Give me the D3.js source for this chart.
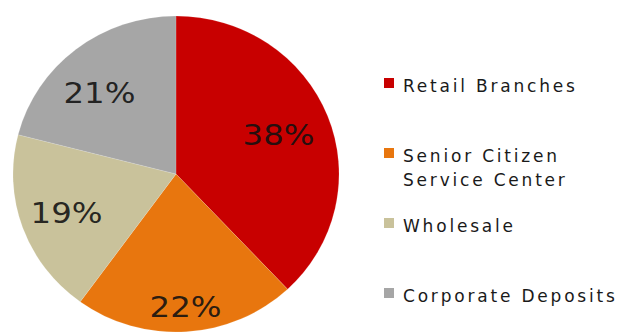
<!DOCTYPE html>
<html>
<head>
<meta charset="utf-8">
<script src="https://cdn.jsdelivr.net/npm/d3@7"></script>
<style>
  html, body { margin: 0; padding: 0; background: #fff; }
  svg { display: block; }
</style>
</head>
<body>
<svg id="chart" width="624" height="335"></svg>
<script>
// Deposit mix by channel
const categories = ["Retail Branches", "Senior Citizen Service Center", "Wholesale", "Corporate Deposits"];
const legendLines = [["Retail Branches"], ["Senior Citizen", "Service Center"], ["Wholesale"], ["Corporate Deposits"]];
const shares = [38, 22, 19, 21];
const colors = ["#C80000", "#E8760E", "#C9C29B", "#A6A6A6"];

// Label placement (fraction of radius, angle nudge in degrees)
const labelRadius = [0.67, 0.84, 0.72, 0.70];
const labelNudge = [0, 0, 0, -5];

const svg = d3.select("#chart");
const cx = 176, cy = 174, rx = 163, ry = 158;
const k = ry / rx;

const pie = d3.pie().sort(null).value(d => d)(shares);
const arc = d3.arc().innerRadius(0).outerRadius(rx);

const g = svg.append("g").attr("transform", `translate(${cx},${cy}) scale(1,${k})`);
g.selectAll("path")
  .data(pie)
  .join("path")
  .attr("d", arc)
  .attr("fill", (d, i) => colors[i])
  .attr("stroke", "#fff")
  .attr("stroke-opacity", 0.25)
  .attr("stroke-width", 0.6);

// Percentage labels
const fs = 28;
svg.append("g").selectAll("text")
  .data(pie)
  .join("text")
  .each(function (d, i) {
    const a = (d.startAngle + d.endAngle) / 2 + labelNudge[i] * Math.PI / 180;
    const r = rx * labelRadius[i];
    const x = cx + r * Math.sin(a);
    const y = cy - r * Math.cos(a) * k;
    d3.select(this)
      .attr("x", x + 1)
      .attr("y", y + fs * 0.36)
      .text(d3.format(".0f")(d.value) + "%");
  })
  .attr("text-anchor", "middle")
  .attr("font-family", "DejaVu Sans, Verdana, sans-serif")
  .attr("font-size", fs)
  .attr("textLength", 72)
  .attr("lengthAdjust", "spacingAndGlyphs")
  .attr("fill", "#111")
  .attr("fill-opacity", 0.9);

// Legend
const legendX = 384, legendTop = 92, legendStep = 70, lineStep = 24;
const lg = svg.append("g");
const items = lg.selectAll("g.item")
  .data(categories)
  .join("g")
  .attr("class", "item")
  .attr("transform", (d, i) => `translate(${legendX},${legendTop + i * legendStep})`);

items.append("rect")
  .attr("x", 0)
  .attr("y", -14)
  .attr("width", 10)
  .attr("height", 10)
  .attr("fill", (d, i) => colors[i]);

items.append("text")
  .attr("font-family", "DejaVu Sans, Verdana, sans-serif")
  .attr("font-size", 17)
  .attr("letter-spacing", 2.8)
  .attr("fill", "#1a1a1a")
  .each(function (d, i) {
    d3.select(this).selectAll("tspan")
      .data(legendLines[i])
      .join("tspan")
      .attr("x", 19)
      .attr("y", (t, j) => j * lineStep)
      .text(t => t);
  });
</script>
</body>
</html>
